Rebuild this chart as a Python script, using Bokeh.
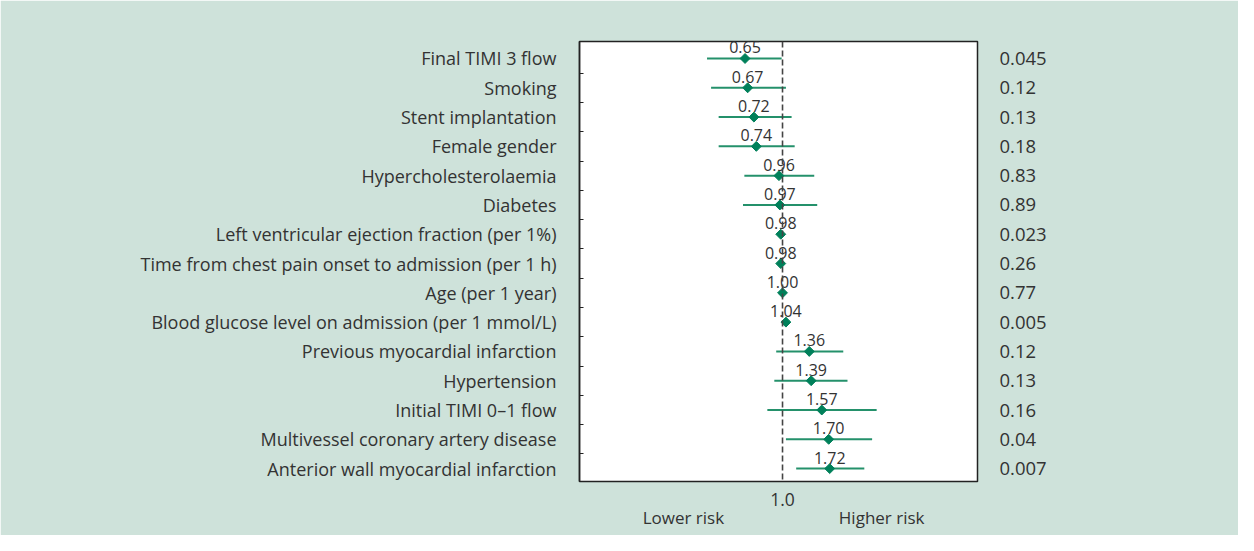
import math
from bokeh.plotting import figure
from bokeh.models import (Range1d, FixedTicker, Span, LinearAxis, LogAxis,
                          ColumnDataSource, CustomJSTickFormatter, NumeralTickFormatter)
from bokeh.core.properties import value
from bokeh.embed import file_html
from bokeh.resources import INLINE

factors = [
    "Final TIMI 3 flow",
    "Smoking",
    "Stent implantation",
    "Female gender",
    "Hypercholesterolaemia",
    "Diabetes",
    "Left ventricular ejection fraction (per 1%)",
    "Time from chest pain onset to admission (per 1 h)",
    "Age (per 1 year)",
    "Blood glucose level on admission (per 1 mmol/L)",
    "Previous myocardial infarction",
    "Hypertension",
    "Initial TIMI 0\u20131 flow",
    "Multivessel coronary artery disease",
    "Anterior wall myocardial infarction",
]
odds = [0.65, 0.67, 0.72, 0.74, 0.96, 0.97, 0.98, 0.98, 1.00, 1.04, 1.36, 1.39, 1.57, 1.70, 1.72]
ci_low = [0.42, 0.44, 0.48, 0.48, 0.645, 0.635, 0.965, 0.95, 0.97, 1.01, 0.93, 0.91, 0.84, 1.04, 1.17]
ci_high = [0.99, 1.04, 1.11, 1.15, 1.44, 1.49, 0.997, 1.01, 1.03, 1.07, 2.01, 2.11, 2.95, 2.80, 2.56]
p_values = ["0.045", "0.12", "0.13", "0.18", "0.83", "0.89", "0.023", "0.26",
            "0.77", "0.005", "0.12", "0.13", "0.16", "0.04", "0.007"]
direction_labels = ["Lower risk", "Higher risk"]
direction_pos = [0.32, 3.125]

rows = list(range(len(factors)))
src = ColumnDataSource(dict(
    y=rows, odds=odds, lo=ci_low, hi=ci_high,
    lab=[f"{v:.2f}" for v in odds],
))

BG = "#cee2da"
TXT = "#333333"
FONT = "Open Sans"

p = figure(width=1238, height=535, x_axis_type="log",
           x_range=Range1d(0.097, 9.40), y_range=Range1d(14.44, -0.58),
           output_backend="svg", toolbar_location=None,
           min_border_left=579, min_border_right=261,
           min_border_top=41, min_border_bottom=54,
           y_axis_location=None)
p.border_fill_color = BG
p.background_fill_color = "white"
p.outline_line_color = "#222222"
p.outline_line_width = 1.5
p.xgrid.visible = False
p.ygrid.visible = False

# x axis: single tick at 1.0
xa = p.xaxis[0]
xa.ticker = FixedTicker(ticks=[1.0])
xa.formatter = NumeralTickFormatter(format="0.0")
xa.major_tick_line_color = None
xa.minor_tick_line_color = None
xa.major_tick_out = 0
xa.major_tick_in = 0
xa.axis_line_color = None
xa.major_label_standoff = 11
xa.major_label_text_font = FONT
xa.major_label_text_font_size = "17.5px"
xa.major_label_text_color = TXT

# second bottom axis: risk direction
da = LogAxis(
    ticker=FixedTicker(ticks=direction_pos),
    formatter=CustomJSTickFormatter(args=dict(labels=direction_labels),
                                    code="return tick < 1 ? labels[0] : labels[1]"),
)
da.major_tick_line_color = None
da.minor_tick_line_color = None
da.major_tick_out = 0
da.major_tick_in = 0
da.axis_line_color = None
da.major_label_standoff = -3
da.major_label_text_font = FONT
da.major_label_text_font_size = "17px"
da.major_label_text_color = TXT
p.add_layout(da, "below")

# left axis: factor names, tick marks between rows
ya = LinearAxis(
    ticker=FixedTicker(ticks=rows, minor_ticks=[i + 0.5 for i in rows[:-1]]),
    formatter=CustomJSTickFormatter(args=dict(labels=factors),
                                    code="return labels[Math.round(tick)] || ''"),
)
ya.major_tick_line_color = None
ya.major_tick_out = 0
ya.major_tick_in = 0
ya.minor_tick_in = 4
ya.minor_tick_out = 0
ya.minor_tick_line_color = "#222222"
ya.minor_tick_line_width = 1.2
ya.axis_line_color = "#222222"
ya.axis_line_width = 1.5
ya.major_label_standoff = 23
ya.major_label_text_font = FONT
ya.major_label_text_font_size = "18px"
ya.major_label_text_color = TXT
p.add_layout(ya, "left")

# right axis: p-values
ra = LinearAxis(
    ticker=FixedTicker(ticks=rows),
    formatter=CustomJSTickFormatter(args=dict(labels=p_values),
                                    code="return labels[Math.round(tick)] || ''"),
)
ra.major_tick_line_color = None
ra.minor_tick_line_color = None
ra.major_tick_out = 0
ra.major_tick_in = 0
ra.axis_line_color = None
ra.major_label_standoff = 22
ra.major_label_text_font = FONT
ra.major_label_text_font_size = "18.5px"
ra.major_label_text_color = TXT
p.add_layout(ra, "right")

# reference line at 1.0
p.add_layout(Span(location=1.0, dimension="height", line_color="#444444",
                  line_width=1.6, line_dash="6 3"))

# confidence intervals and point estimates
p.segment(x0="lo", y0="y", x1="hi", y1="y", source=src,
          line_color="#24916b", line_width=2)
p.scatter(x="odds", y="y", source=src, marker="square", size=7,
          angle=math.pi / 4, fill_color="#00805a", line_color="#00805a")
p.text(x="odds", y="y", text="lab", source=src, text_align="center",
       text_baseline="alphabetic", y_offset=-11,
       text_font=value(FONT), text_font_size="16px", text_color=TXT)

open("out.html", "w").write(file_html(p, INLINE))
